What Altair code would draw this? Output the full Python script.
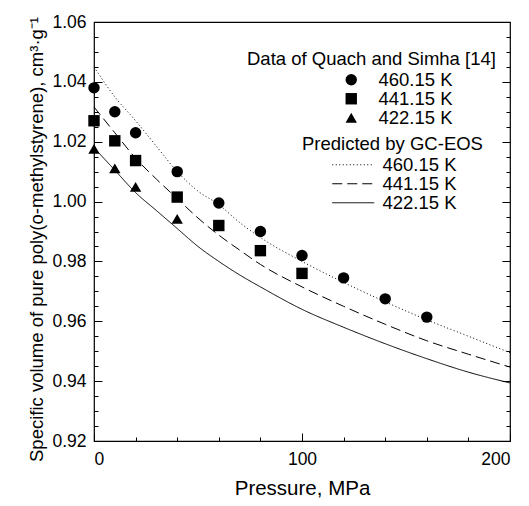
import altair as alt
import pandas as pd

# ---------------- data ----------------
T_LABELS = ["460.15 K", "441.15 K", "422.15 K"]
# same temperatures for the predicted curves (non-breaking space keeps the two legends apart)
T_LABELS_LINE = ["460.15\u00a0K", "441.15\u00a0K", "422.15\u00a0K"]

# GC-EOS predicted curves
P_CURVE = [0, 10, 20, 30, 40, 50, 60, 70, 80, 100, 120, 140, 160, 180, 200]
V_CURVE_460 = [1.045, 1.035, 1.027, 1.0185, 1.010, 1.0035, 0.999, 0.993, 0.988,
               0.980, 0.973, 0.9665, 0.9605, 0.955, 0.9495]
V_CURVE_441 = [1.0316, 1.023, 1.0145, 1.0075, 1.001, 0.9945, 0.9888, 0.9838, 0.979,
               0.9715, 0.965, 0.959, 0.9535, 0.949, 0.9447]
V_CURVE_422 = [1.018, 1.0105, 1.003, 0.997, 0.991, 0.985, 0.980, 0.9755, 0.9715,
               0.964, 0.958, 0.9525, 0.9475, 0.943, 0.9394]

# Data of Quach and Simha
P_460 = [0, 10, 20, 40, 60, 80, 100, 120, 140, 160]
V_460 = [1.038, 1.030, 1.023, 1.010, 0.9995, 0.990, 0.982, 0.9745, 0.9675, 0.9614]
P_441 = [0, 10, 20, 40, 60, 80, 100]
V_441 = [1.027, 1.0203, 1.0137, 1.0015, 0.992, 0.9836, 0.976]
P_422 = [0, 10, 20, 40]
V_422 = [1.0176, 1.0111, 1.0049, 0.9942]

X_TICKS = [0, 10, 20, 30, 40, 50, 60, 70, 80, 90, 100, 110, 120, 130, 140, 150,
           160, 170, 180, 190, 200]
Y_TICKS = [0.92, 0.925, 0.93, 0.935, 0.94, 0.945, 0.95, 0.955, 0.96, 0.965, 0.97,
           0.975, 0.98, 0.985, 0.99, 0.995, 1.00, 1.005, 1.01, 1.015, 1.02, 1.025,
           1.03, 1.035, 1.04, 1.045, 1.05, 1.055, 1.06]

# ---------------- tables ----------------
curve_rows = []
for lab, vals in zip(T_LABELS_LINE, [V_CURVE_460, V_CURVE_441, V_CURVE_422]):
    for p, v in zip(P_CURVE, vals):
        curve_rows.append({"P": p, "V": v, "Tline": lab})
curves = pd.DataFrame(curve_rows)

pt_rows = []
for lab, ps, vs in zip(T_LABELS, [P_460, P_441, P_422], [V_460, V_441, V_422]):
    for p, v in zip(ps, vs):
        pt_rows.append({"P": p, "V": v, "Tpt": lab})
points = pd.DataFrame(pt_rows)

FONT = "Liberation Sans"
x_scale = alt.Scale(domain=[0, 200], nice=False, zero=False)
y_scale = alt.Scale(domain=[0.92, 1.06], nice=False, zero=False)

x_major = "datum.value % 50 == 0"
y_major = "abs(datum.value * 50 - round(datum.value * 50)) < 0.001"

x_axis = alt.Axis(
    values=X_TICKS, labelExpr=f"{x_major} ? datum.label : ''",
    tickSize={"condition": {"test": x_major, "value": -8}, "value": -4},
    tickColor="black", tickWidth=1, domain=False, grid=False,
    labelFont=FONT, labelFontSize=17.5, labelColor="black", labelPadding=17,
    title="Pressure, MPa", titleFont=FONT, titleFontSize=20.5,
    titleFontWeight="normal", titleColor="black", titlePadding=11,
)
y_axis = alt.Axis(
    values=Y_TICKS, format=".2f", labelExpr=f"{y_major} ? datum.label : ''",
    tickSize={"condition": {"test": y_major, "value": -8}, "value": -4},
    tickColor="black", tickWidth=1, domain=False, grid=False,
    labelFont=FONT, labelFontSize=17.5, labelColor="black", labelPadding=16,
    title="Specific volume of pure poly(o-methylstyrene), cm³·g⁻¹",
    titleFont=FONT, titleFontSize=18.5, titleFontWeight="normal", titleColor="black",
    titlePadding=5, titleY=217,
)
y_axis_right = alt.Axis(
    orient="right", values=Y_TICKS, labels=False, title=None,
    tickSize={"condition": {"test": y_major, "value": -8}, "value": -4},
    tickColor="black", tickWidth=1, domain=False, grid=False,
)

lines = alt.Chart(curves).mark_line(color="black", strokeWidth=1, interpolate="monotone").encode(
    x=alt.X("P:Q", scale=x_scale, axis=x_axis),
    y=alt.Y("V:Q", scale=y_scale, axis=y_axis),
    strokeDash=alt.StrokeDash(
        "Tline:N",
        scale=alt.Scale(domain=T_LABELS_LINE, range=[[1, 2.5], [10, 5], [1, 0]]),
        legend=alt.Legend(
            title="Predicted by GC-EOS", orient="none", legendX=208, legendY=113,
            padding=0, titleFont=FONT, titleFontSize=18.5, titleFontWeight="normal",
            titleColor="black", labelFont=FONT, labelFontSize=18.5, labelColor="black",
            symbolType="M-4.2,0H4.2", symbolSize=100, symbolStrokeColor="black",
            symbolFillColor="transparent",
            symbolStrokeWidth=1, symbolOffset=42, labelOffset=20, rowPadding=0,
            titlePadding=2, titleLimit=400, labelLimit=300,
        ),
    ),
)

pts = alt.Chart(points).mark_point(filled=True, color="black", size=130, opacity=1).encode(
    x=alt.X("P:Q", scale=x_scale),
    y=alt.Y("V:Q", scale=y_scale, axis=y_axis_right),
    shape=alt.Shape(
        "Tpt:N",
        scale=alt.Scale(domain=T_LABELS, range=["circle", "square", "triangle-up"]),
        legend=alt.Legend(
            title="Data of Quach and Simha [14]", orient="none", legendX=153, legendY=28,
            padding=0, titleFont=FONT, titleFontSize=18.5, titleFontWeight="normal",
            titleColor="black", labelFont=FONT, labelFontSize=18.5, labelColor="black",
            symbolFillColor="black", symbolStrokeColor="black", symbolSize=130,
            symbolOffset=95, labelOffset=18, rowPadding=0, titlePadding=2,
            titleLimit=400, labelLimit=300,
        ),
    ),
)

chart = alt.layer(lines, pts).resolve_axis(y="independent").properties(
    width=416, height=419,
    autosize=alt.AutoSizeParams(type="none"),
    padding={"left": 86, "top": 14, "right": 11, "bottom": 57},
    background="white",
).configure_view(stroke="black", strokeWidth=1.2)

chart.save("out.html", embed_options={"renderer": "svg", "actions": False})
